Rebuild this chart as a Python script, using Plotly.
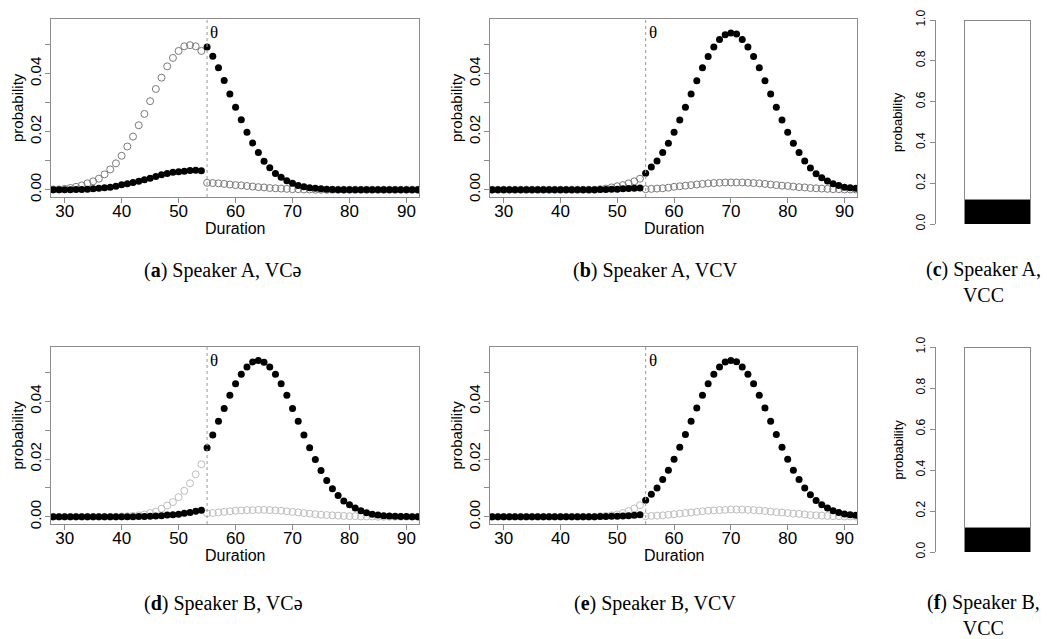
import plotly.graph_objects as go

# ---------------- data ----------------
duration = list(range(28, 93))  # 65 duration values
theta = 55

a_open = [0.0001, 0.0001, 0.0003, 0.0006, 0.0010, 0.0015, 0.0022, 0.0029, 0.0038, 0.0053,
          0.0070, 0.0091, 0.0117, 0.0149, 0.0183, 0.0222, 0.0261, 0.0305, 0.0347, 0.0386,
          0.0425, 0.0454, 0.0478, 0.0494, 0.0498, 0.0494, 0.0478,
          0.0024, 0.0023, 0.0022, 0.0020, 0.0018, 0.0016, 0.0015, 0.0013, 0.0011, 0.0009,
          0.0008, 0.0006, 0.0005, 0.0004, 0.0003, 0.0002, 0.0002, 0.0001, 0.0001,
          0, 0, 0, 0, 0, 0, 0, 0, 0, 0, 0, 0, 0, 0, 0, 0, 0, 0, 0]
a_filled = [0, 0, 0, 0, 0.0001, 0.0001, 0.0002, 0.0003, 0.0005, 0.0007,
            0.0009, 0.0012, 0.0017, 0.0021, 0.0025, 0.0029, 0.0034, 0.0040, 0.0046, 0.0052,
            0.0056, 0.0060, 0.0062, 0.0064, 0.0066, 0.0067, 0.0065,
            0.0492, 0.0460, 0.0420, 0.0376, 0.0330, 0.0284, 0.0241, 0.0198, 0.0161, 0.0128,
            0.0098, 0.0076, 0.0056, 0.0043, 0.0031, 0.0022, 0.0015, 0.0010, 0.0007, 0.0005,
            0.0003, 0.0002, 0.0001,
            0, 0, 0, 0, 0, 0, 0, 0, 0, 0, 0, 0, 0, 0, 0]

b_open = [0, 0, 0, 0, 0, 0, 0, 0, 0, 0, 0, 0, 0, 0, 0, 0, 0, 0, 0,
          0.0002, 0.0004, 0.0008, 0.0012, 0.0016, 0.0022, 0.0029, 0.0038,
          0.0002, 0.0003, 0.0004, 0.0005, 0.0007, 0.0010, 0.0012, 0.0014, 0.0016, 0.0018,
          0.0020, 0.0022, 0.0023, 0.0024, 0.0025, 0.0025, 0.0025, 0.0025, 0.0024, 0.0023,
          0.0022, 0.0020, 0.0018, 0.0016, 0.0014, 0.0013, 0.0011, 0.0009, 0.0008, 0.0006,
          0.0005, 0.0004, 0.0003, 0.0002, 0.0002, 0.0001, 0.0001, 0.0001]
b_filled = [0, 0, 0, 0, 0, 0, 0, 0, 0, 0, 0, 0, 0, 0, 0, 0, 0, 0, 0,
            0.0001, 0.0001, 0.0002, 0.0002, 0.0003, 0.0004, 0.0005, 0.0006,
            0.0057, 0.0078, 0.0099, 0.0128, 0.0160, 0.0198, 0.0240, 0.0284, 0.0330, 0.0375,
            0.0420, 0.0459, 0.0492, 0.0517, 0.0534, 0.0540, 0.0536, 0.0517, 0.0492, 0.0459,
            0.0420, 0.0375, 0.0330, 0.0284, 0.0240, 0.0198, 0.0160, 0.0128, 0.0099, 0.0075,
            0.0055, 0.0041, 0.0030, 0.0021, 0.0015, 0.0009, 0.0007, 0.0005]

d_open = [0, 0, 0, 0, 0, 0, 0, 0, 0, 0, 0, 0,
          0.0001, 0.0002, 0.0003, 0.0005, 0.0008, 0.0013, 0.0018, 0.0028, 0.0039, 0.0051,
          0.0068, 0.0090, 0.0116, 0.0147, 0.0182,
          0.0012, 0.0013, 0.0015, 0.0017, 0.0019, 0.0021, 0.0022, 0.0023, 0.0023, 0.0024,
          0.0024, 0.0023, 0.0022, 0.0021, 0.0019, 0.0017, 0.0015, 0.0013, 0.0011, 0.0009,
          0.0007, 0.0006, 0.0005, 0.0004, 0.0003, 0.0002, 0.0002, 0.0001, 0.0001, 0.0001,
          0, 0, 0, 0, 0, 0, 0, 0]
d_filled = [0, 0, 0, 0, 0, 0, 0, 0, 0, 0, 0, 0, 0, 0, 0,
            0.0001, 0.0001, 0.0002, 0.0003, 0.0004, 0.0006, 0.0007, 0.0009, 0.0012, 0.0015,
            0.0019, 0.0023,
            0.0239, 0.0283, 0.0331, 0.0375, 0.0421, 0.0461, 0.0494, 0.0519, 0.0536, 0.0541,
            0.0535, 0.0519, 0.0494, 0.0461, 0.0421, 0.0375, 0.0331, 0.0283, 0.0239, 0.0198,
            0.0160, 0.0126, 0.0097, 0.0074, 0.0055, 0.0042, 0.0030, 0.0021, 0.0014, 0.0009,
            0.0006, 0.0004, 0.0003, 0.0002, 0.0001, 0.0001, 0, 0]

e_open = [0, 0, 0, 0, 0, 0, 0, 0, 0, 0, 0, 0, 0, 0, 0, 0, 0, 0, 0,
          0.0002, 0.0003, 0.0005, 0.0008, 0.0013, 0.0020, 0.0029, 0.0040,
          0.0002, 0.0003, 0.0004, 0.0005, 0.0007, 0.0009, 0.0011, 0.0013, 0.0015, 0.0017,
          0.0019, 0.0021, 0.0022, 0.0023, 0.0024, 0.0025, 0.0025, 0.0025, 0.0024, 0.0023,
          0.0022, 0.0020, 0.0018, 0.0016, 0.0015, 0.0013, 0.0011, 0.0010, 0.0008, 0.0006,
          0.0005, 0.0004, 0.0003, 0.0002, 0.0002, 0.0001, 0.0001, 0.0001]
e_filled = [0, 0, 0, 0, 0, 0, 0, 0, 0, 0, 0, 0, 0, 0, 0, 0, 0, 0, 0,
            0.0001, 0.0001, 0.0002, 0.0002, 0.0003, 0.0004, 0.0005, 0.0007,
            0.0057, 0.0078, 0.0100, 0.0129, 0.0161, 0.0199, 0.0241, 0.0285, 0.0331, 0.0377,
            0.0421, 0.0461, 0.0494, 0.0519, 0.0536, 0.0541, 0.0537, 0.0519, 0.0494, 0.0461,
            0.0421, 0.0377, 0.0331, 0.0285, 0.0241, 0.0199, 0.0161, 0.0129, 0.0100, 0.0076,
            0.0056, 0.0042, 0.0030, 0.0021, 0.0015, 0.0010, 0.0007, 0.0005]

vcc_c = [0.12, 0.88]   # speaker A, VCC: [black part, white part]
vcc_f = [0.12, 0.88]   # speaker B, VCC
vcc_colors = ["black", "white"]

y_ticks = [0, 0.01, 0.02, 0.03, 0.04, 0.05]
y_ticktext = ["0.00", "", "0.02", "", "0.04", ""]
x_ticks = [30, 40, 50, 60, 70, 80, 90]
bar_ticks = [0, 0.2, 0.4, 0.6, 0.8, 1.0]
bar_ticktext = ["0.0", "0.2", "0.4", "0.6", "0.8", "1.0"]

captions = {
    "a": "(<b>a</b>) Speaker A, VCə",
    "b": "(<b>b</b>) Speaker A, VCV",
    "c": "(<b>c</b>) Speaker A,<br>VCC",
    "d": "(<b>d</b>) Speaker B, VCə",
    "e": "(<b>e</b>) Speaker B, VCV",
    "f": "(<b>f</b>) Speaker B,<br>VCC",
}

# ---------------- layout helpers ----------------
W, H = 1047, 639
SANS = "Liberation Sans, Arial, sans-serif"
SERIF = "Liberation Serif, Times New Roman, serif"
BOX = "#8c8c8c"


def dx(a, b):
    return [a / W, b / W]


def dy(top, bottom):
    return [1 - bottom / H, 1 - top / H]


fig = go.Figure()

line_panels = [
    # key, axis suffix, open, filled, open colour, xdomain px, ydomain px
    ("a", "", a_open, a_filled, "#7a7a7a", (51, 419), (19, 197)),
    ("b", "2", b_open, b_filled, "#7a7a7a", (490, 857), (19, 197)),
    ("d", "4", d_open, d_filled, "#bdbdbd", (51, 419), (347, 524)),
    ("e", "5", e_open, e_filled, "#bdbdbd", (490, 857), (347, 524)),
]

layout = dict(
    width=W, height=H,
    margin=dict(l=0, r=0, t=0, b=0),
    paper_bgcolor="white", plot_bgcolor="white",
    showlegend=False,
    font=dict(family=SANS, color="black"),
    annotations=[], shapes=[],
)

for key, s, yo, yf, ocol, xd, yd in line_panels:
    xa = "x" + s
    ya = "y" + s
    fig.add_trace(go.Scatter(
        x=duration, y=yo, mode="markers", xaxis=xa, yaxis=ya,
        marker=dict(symbol="circle-open", size=7, color=ocol, line=dict(width=1, color=ocol)),
        hoverinfo="x+y"))
    fig.add_trace(go.Scatter(
        x=duration, y=yf, mode="markers", xaxis=xa, yaxis=ya,
        marker=dict(symbol="circle", size=7, color="black"),
        hoverinfo="x+y"))
    layout["xaxis" + s] = dict(
        domain=dx(*xd), anchor=ya, range=[27.6, 92.2],
        tickmode="array", tickvals=x_ticks, ticks="outside", ticklen=5,
        tickcolor=BOX, showline=True, linecolor=BOX, linewidth=1, mirror=True,
        showgrid=False, zeroline=False, automargin=False, ticklabelstandoff=-6,
        tickfont=dict(family=SANS, size=17, color="black"))
    layout["yaxis" + s] = dict(
        domain=dy(*yd), anchor=xa, range=[-0.0025, 0.0588],
        tickmode="array", tickvals=y_ticks, ticktext=y_ticktext, tickangle=-90,
        ticks="outside", ticklen=5, tickcolor=BOX, showline=True, linecolor=BOX,
        linewidth=1, mirror=True, showgrid=False, zeroline=False, automargin=False,
        ticklabelstandoff=-2,
        tickfont=dict(family=SANS, size=15, color="black"))
    layout["shapes"].append(dict(
        type="line", xref=xa, yref=ya + " domain", x0=theta, x1=theta, y0=0, y1=1,
        line=dict(color="#9a9a9a", width=1, dash="dot")))
    layout["annotations"] += [
        dict(text="θ", xref=xa, yref=ya + " domain", x=theta, y=1, xanchor="left",
             yanchor="top", xshift=1, yshift=-2, showarrow=False,
             font=dict(family=SERIF, size=17, color="black")),
        dict(text="Duration", xref=xa + " domain", yref=ya + " domain", x=0.5, y=0,
             yanchor="middle", yshift=-31, showarrow=False,
             font=dict(family=SANS, size=16, color="black")),
        dict(text="probability", xref=xa + " domain", yref=ya + " domain", x=0, y=0.5,
             xanchor="center", xshift=-34, textangle=-90, showarrow=False,
             font=dict(family=SANS, size=15, color="black")),
    ]

bar_panels = [("c", "3", vcc_c, (20, 224)), ("f", "6", vcc_f, (347, 552))]
for key, s, vals, yd in bar_panels:
    xa = "x" + s
    ya = "y" + s
    for v, c in zip(vals, vcc_colors):
        fig.add_trace(go.Bar(
            x=["VCC"], y=[v], xaxis=xa, yaxis=ya, width=1,
            marker=dict(color=c, line=dict(color="#888888", width=1)),
            hoverinfo="y"))
    layout["xaxis" + s] = dict(
        domain=dx(936, 1046), anchor=ya, range=[-0.94, 0.73], visible=False)
    layout["yaxis" + s] = dict(
        domain=dy(*yd), anchor=xa, range=[0, 1],
        tickmode="array", tickvals=bar_ticks, ticktext=bar_ticktext, tickangle=-90,
        ticks="outside", ticklen=5, tickcolor=BOX, showline=True, linecolor=BOX,
        linewidth=1, showgrid=False, zeroline=False, automargin=False,
        tickfont=dict(family=SANS, size=12, color="black"))
    layout["annotations"].append(dict(
        text="probability", xref=xa + " domain", yref=ya + " domain", x=0, y=0.5,
        xanchor="center", xshift=-38, textangle=-90, showarrow=False,
        font=dict(family=SANS, size=13, color="black")))

layout["barmode"] = "stack"

# captions
cap_pos = {"a": (223, 270), "b": (655, 270), "c": (983, 282),
           "d": (223, 603), "e": (655, 603), "f": (983, 615)}
for k, (px, py) in cap_pos.items():
    layout["annotations"].append(dict(
        text=captions[k], xref="paper", yref="paper", x=px / W, y=1 - py / H,
        xanchor="center", yanchor="middle", showarrow=False, align="center",
        font=dict(family=SERIF, size=20, color="black")))

fig.update_layout(**layout)
fig.write_html("out.html")
